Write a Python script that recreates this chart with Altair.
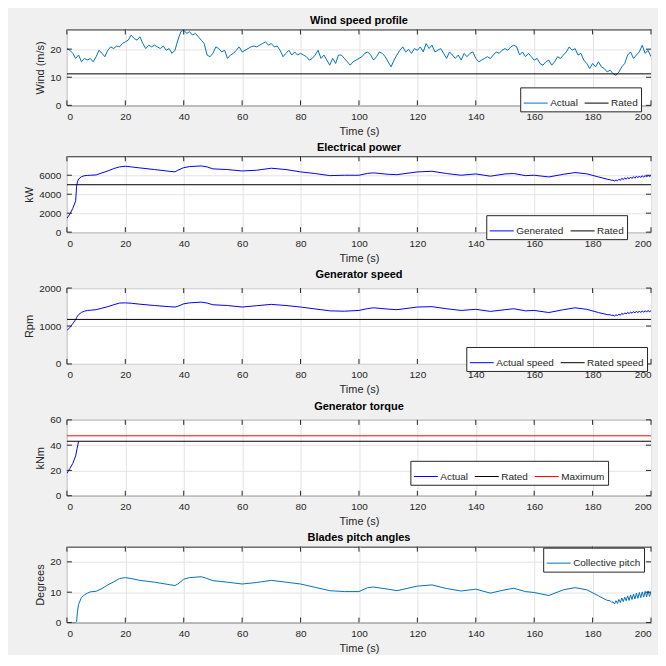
import altair as alt
import pandas as pd

FONT = "Liberation Sans, Arial, Helvetica, sans-serif"
W, H = 585, 76
TICK = 5
DARK = "#262626"

X_TICKS = [0, 20, 40, 60, 80, 100, 120, 140, 160, 180, 200]

# ---------------- data ----------------
wind_t = list(range(201))
wind_actual = [
    20.2, 19.6, 18.5, 16.7, 17.9, 15.5, 16.7, 16.1, 16.7, 15.5,
    17.3, 19.6, 18.5, 17.3, 19.6, 20.8, 20.2, 21.1, 20.8, 22.0,
    22.6, 23.2, 25.0, 23.8, 23.2, 24.4, 22.0, 20.2, 21.4, 20.8,
    21.4, 20.8, 20.2, 21.1, 19.6, 20.2, 18.5, 19.6, 23.2, 26.2,
    26.8, 25.6, 26.2, 25.0, 25.6, 24.4, 23.2, 22.0, 17.9, 17.3,
    18.5, 20.8, 20.2, 19.0, 19.6, 16.7, 17.9, 18.5, 19.6, 20.8,
    19.0, 19.6, 20.2, 20.8, 21.1, 20.8, 21.4, 22.0, 22.6, 21.4,
    22.0, 20.8, 21.1, 19.6, 17.3, 18.5, 19.6, 17.9, 19.0, 17.9,
    18.5, 17.9, 17.3, 16.1, 16.7, 17.9, 19.6, 16.7, 17.9, 16.1,
    14.3, 16.7, 14.9, 17.9, 17.9, 16.7, 15.5, 14.3, 15.5, 16.1,
    16.7, 17.3, 18.5, 19.0, 17.9, 16.1, 17.3, 19.0, 18.5, 17.3,
    15.5, 13.7, 16.1, 17.9, 19.6, 20.8, 19.0, 19.9, 18.5, 20.2,
    19.6, 20.8, 19.0, 22.0, 20.2, 21.4, 19.0, 19.6, 20.2, 18.5,
    16.7, 19.0, 17.9, 16.7, 17.9, 16.1, 18.5, 17.3, 18.5, 19.0,
    16.7, 15.5, 16.1, 16.7, 17.3, 16.7, 17.9, 19.0, 18.5, 19.6,
    20.2, 19.6, 20.8, 21.4, 20.8, 17.9, 19.0, 17.3, 18.5, 17.3,
    16.1, 16.7, 14.9, 14.3, 15.5, 16.1, 14.3, 15.5, 17.3, 16.7,
    17.9, 19.0, 20.8, 19.6, 20.2, 17.9, 18.5, 16.1, 14.9, 13.1,
    14.9, 13.7, 15.5, 13.7, 13.1, 11.9, 12.5, 11.3, 10.7, 11.9,
    13.7, 14.9, 17.9, 19.0, 16.7, 17.9, 19.0, 21.4, 18.5, 19.6, 17.3,
]
wind_rated = 11.2

ctrl_t = [
    0, 1, 2, 3, 3.3, 3.6, 4, 5, 6, 7,
    8, 10, 12, 14, 16, 18, 20, 22, 25, 30,
    35, 37, 38, 40, 42, 46, 48, 50, 55, 60,
    65, 70, 75, 80, 85, 90, 95, 100, 103, 105,
    110, 113, 120, 125, 130, 135, 140, 145, 150, 153,
    157, 160, 165, 170, 174, 178, 182, 185,
    186, 186.5, 187, 187.5, 188, 188.5, 189, 189.5, 190, 190.5,
    191, 191.5, 192, 192.5, 193, 193.5, 194, 194.5, 195, 195.5,
    196, 196.5, 197, 197.5, 198, 198.5, 199, 199.5, 200,
]
power_generated = [
    1450, 1900, 2500, 3300, 4800, 5300, 5600, 5850, 5950, 5980,
    6000, 6030, 6250, 6450, 6700, 6880, 6950, 6880, 6770, 6600,
    6420, 6350, 6530, 6800, 6910, 6980, 6880, 6670, 6600, 6450,
    6530, 6740, 6600, 6350, 6180, 5960, 6000, 6000, 6200, 6250,
    6100, 6060, 6350, 6420, 6180, 6000, 6140, 5900, 6140, 6180,
    5960, 6000, 5820, 6100, 6280, 6150, 5820, 5580,
    5520, 5470, 5480, 5400, 5500, 5420, 5580, 5460, 5680, 5540,
    5730, 5580, 5770, 5620, 5810, 5650, 5850, 5690, 5900, 5740,
    5920, 5760, 5950, 5790, 5980, 5810, 6000, 5840, 5990,
]
power_rated = 5000

speed_actual = [
    880, 960, 1060, 1170, 1220, 1260, 1300, 1360, 1390, 1410,
    1415, 1430, 1470, 1510, 1560, 1605, 1610, 1600, 1575, 1540,
    1510, 1500, 1520, 1585, 1610, 1630, 1605, 1560, 1540, 1500,
    1535, 1570, 1540, 1500, 1450, 1400, 1390, 1410, 1460, 1480,
    1445, 1430, 1500, 1510, 1455, 1410, 1440, 1385, 1430, 1455,
    1400, 1410, 1355, 1430, 1480, 1440, 1355, 1300,
    1295, 1280, 1285, 1265, 1295, 1275, 1310, 1285, 1335, 1305,
    1345, 1315, 1360, 1325, 1370, 1335, 1380, 1345, 1390, 1350,
    1395, 1355, 1400, 1360, 1405, 1365, 1410, 1370, 1405,
]
speed_rated = 1173.7

# visible part of the torque response (it then sits under the rated line)
torque_t = [0, 1, 2, 3, 3.5, 4]
torque_actual = [17.7, 21.5, 25.5, 31.5, 37.5, 43.09]
torque_rated = 43.09
torque_max = 47.4

pitch_collective = [
    0, 0, 0, 0, 0.3, 3.5, 6.0, 8.3, 9.1, 9.7,
    10.1, 10.3, 11.2, 12.4, 13.4, 14.5, 14.8, 14.5, 13.9, 13.3,
    12.5, 12.2, 12.7, 14.3, 14.8, 15.1, 14.5, 13.8, 13.3, 12.7,
    13.2, 13.9, 13.3, 12.7, 11.6, 10.5, 10.2, 10.2, 11.5, 11.7,
    11.0, 10.5, 12.0, 12.4, 11.2, 10.4, 11.0, 9.7, 10.8, 11.3,
    10.2, 9.9, 8.9, 10.8, 11.5, 10.8, 8.8, 7.3,
    7.2, 6.7, 6.8, 6.1, 7.2, 6.3, 7.6, 6.6, 8.1, 6.9,
    8.4, 7.2, 8.8, 7.3, 9.1, 7.6, 9.4, 7.8, 9.7, 8.0,
    9.9, 8.2, 10.1, 8.4, 10.3, 8.5, 10.4, 8.6, 10.2,
]


def panel(title, ytitle, ydomain, yticks, series, lx, ly):
    names = [s[0] for s in series]
    colors = [s[3] for s in series]
    x = alt.X("t:Q", scale=alt.Scale(domain=[0, 200], nice=False, zero=False),
              axis=alt.Axis(values=X_TICKS, title="Time (s)", grid=True, format="d"))
    y = alt.Y("v:Q", scale=alt.Scale(domain=ydomain, nice=False, zero=False),
              axis=alt.Axis(values=yticks, title=ytitle, grid=True, format="d"))
    color = alt.Color(
        "series:N",
        scale=alt.Scale(domain=names, range=colors),
        legend=alt.Legend(
            title=None, orient="none", legendX=lx, legendY=ly,
            direction="horizontal", symbolType="stroke", symbolSize=576,
            symbolStrokeWidth=1, labelFontSize=10, labelFont=FONT,
            labelColor=DARK, fillColor="white", strokeColor=DARK,
            padding=3, columnPadding=4, labelOffset=2,
        ),
    )
    layers = []
    for name, ts, vs, col in series:
        df = pd.DataFrame({"t": ts, "v": vs, "series": name})
        layers.append(
            alt.Chart(df).mark_line(strokeWidth=1, clip=True).encode(x=x, y=y, color=color)
        )
    xt = pd.DataFrame({"t": X_TICKS})
    yt = pd.DataFrame({"v": yticks})
    rs = dict(color=DARK, strokeWidth=1)
    layers.append(alt.Chart(xt).mark_rule(**rs).encode(x=x, y=alt.value(H - TICK), y2=alt.value(H)))
    layers.append(alt.Chart(xt).mark_rule(**rs).encode(x=x, y=alt.value(0), y2=alt.value(TICK)))
    layers.append(alt.Chart(yt).mark_rule(**rs).encode(y=y, x=alt.value(0), x2=alt.value(TICK)))
    layers.append(alt.Chart(yt).mark_rule(**rs).encode(y=y, x=alt.value(W - TICK), x2=alt.value(W)))
    return alt.layer(*layers).properties(width=W, height=H, title=title)


p1 = panel("Wind speed profile", "Wind (m/s)", [0, 27], [0, 10, 20], [
    ("Actual", wind_t, wind_actual, "#0072bd"),
    ("Rated", [0, 200], [wind_rated, wind_rated], "#000000"),
], 454, 58)

p2 = panel("Electrical power", "kW", [0, 8000], [0, 2000, 4000, 6000], [
    ("Generated", ctrl_t, power_generated, "#0000ff"),
    ("Rated", [0, 200], [power_rated, power_rated], "#000000"),
], 420, 59)

p3 = panel("Generator speed", "Rpm", [0, 2000], [0, 1000, 2000], [
    ("Actual speed", ctrl_t, speed_actual, "#0000ff"),
    ("Rated speed", [0, 200], [speed_rated, speed_rated], "#000000"),
], 400, 59)

p4 = panel("Generator torque", "kNm", [0, 60], [0, 20, 40, 60], [
    ("Actual", torque_t, torque_actual, "#0000ff"),
    ("Rated", [0, 200], [torque_rated, torque_rated], "#000000"),
    ("Maximum", [0, 200], [torque_max, torque_max], "#ff0000"),
], 344, 41)

p5 = panel("Blades pitch angles", "Degrees", [0, 25], [0, 10, 20], [
    ("Collective pitch", ctrl_t, pitch_collective, "#0072bd"),
], 477, 1)

chart = (
    alt.vconcat(p1, p2, p3, p4, p5, spacing=4)
    .resolve_scale(x="independent", y="independent", color="independent")
    .resolve_legend(color="independent")
    .properties(padding={"left": 15, "top": 6, "right": 6, "bottom": 0})
    .configure(background="#f0f0f0")
    .configure_view(stroke=DARK, strokeWidth=1, fill="white")
    .configure_axis(
        labelFont=FONT, labelFontSize=10, labelColor=DARK, labelPadding=6,
        titleFont=FONT, titleFontSize=11, titleFontWeight="normal", titleColor=DARK,
        titlePadding=4, gridColor="#e3e3e3", gridWidth=1, domain=False, ticks=False,
    )
    .configure_title(font=FONT, fontSize=11, fontWeight="bold", color="#000000", offset=3, anchor="middle")
)

chart.save("out.html", embed_options={"renderer": "svg", "actions": False})
